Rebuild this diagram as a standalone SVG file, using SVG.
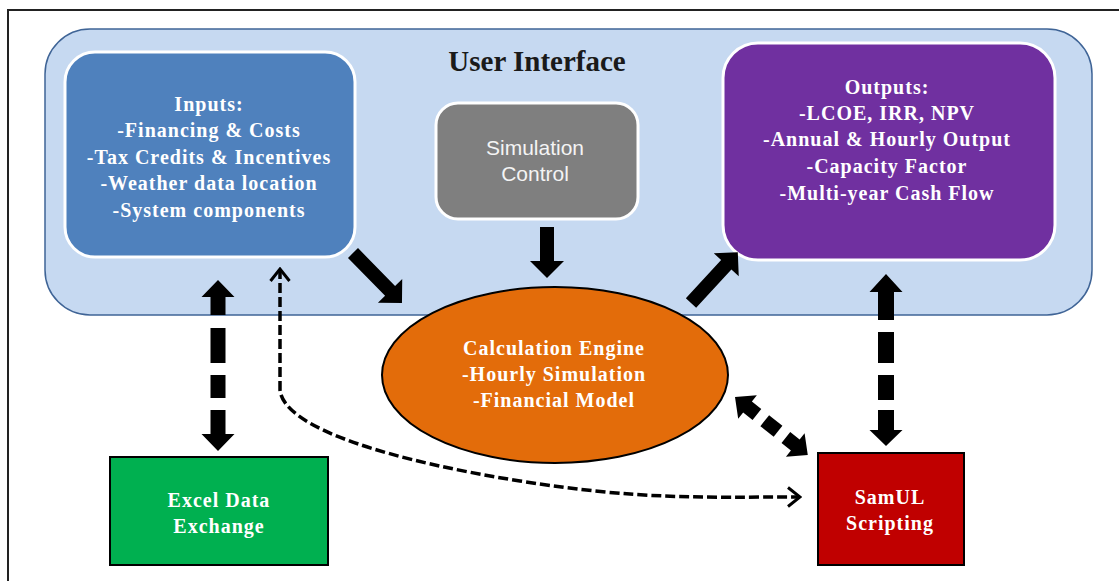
<svg xmlns="http://www.w3.org/2000/svg" width="1119" height="581" viewBox="0 0 1119 581">
  <defs>
    <style>
      .t { font-family: "Liberation Serif", "Times New Roman", serif; font-weight: bold; fill: #ffffff; text-anchor: middle; font-size: 20px; letter-spacing: 1px; }
      .sans { font-family: "Liberation Sans", Arial, sans-serif; fill: #f4f4f4; text-anchor: middle; font-size: 21px; }
      .title { font-family: "Liberation Serif", "Times New Roman", serif; font-weight: bold; fill: #1a1a1a; text-anchor: middle; font-size: 29px; }
      .blk { fill: #000000; }
      .thin { fill: none; stroke: #000000; stroke-width: 3.5; stroke-dasharray: 10 4; }
    </style>
    <marker id="chev" viewBox="0 0 16 22" refX="14" refY="11" markerWidth="16" markerHeight="22" markerUnits="userSpaceOnUse" orient="auto">
      <path d="M2,1.5 L14,11 L2,20.5" fill="none" stroke="#000" stroke-width="3"/>
    </marker>
    <marker id="chevStart" viewBox="0 0 16 22" refX="2" refY="11" markerWidth="16" markerHeight="22" markerUnits="userSpaceOnUse" orient="auto">
      <path d="M14,1.5 L2,11 L14,20.5" fill="none" stroke="#000" stroke-width="3"/>
    </marker>
  </defs>

  <rect x="0" y="0" width="1119" height="581" fill="#ffffff"/>
  <rect x="8" y="10" width="1125" height="590" fill="none" stroke="#222" stroke-width="2"/>

  <g id="user-interface">
    <rect x="45" y="29" width="1047" height="286" rx="45" ry="45" fill="#C6D9F1" stroke="#3F6496" stroke-width="1.5"/>
    <text class="title" x="537" y="71">User Interface</text>
  </g>

  <g id="inputs">
    <rect x="65" y="52" width="290" height="205" rx="30" ry="30" fill="#4F81BD" stroke="#ffffff" stroke-width="3"/>
    <text class="t" x="209" y="111">Inputs:</text>
    <text class="t" x="209" y="137">-Financing &amp; Costs</text>
    <text class="t" x="209" y="164">-Tax Credits &amp; Incentives</text>
    <text class="t" x="209" y="190">-Weather data location</text>
    <text class="t" x="209" y="217">-System components</text>
  </g>

  <g id="simulation-control">
    <rect x="436" y="103" width="202" height="116" rx="22" ry="22" fill="#7F7F7F" stroke="#ffffff" stroke-width="3"/>
    <text class="sans" x="535" y="155">Simulation</text>
    <text class="sans" x="535" y="181">Control</text>
  </g>

  <g id="outputs">
    <rect x="723" y="43" width="332" height="217" rx="35" ry="35" fill="#7030A0" stroke="#ffffff" stroke-width="3"/>
    <text class="t" x="887" y="94">Outputs:</text>
    <text class="t" x="887" y="120">-LCOE, IRR, NPV</text>
    <text class="t" x="887" y="146">-Annual &amp; Hourly Output</text>
    <text class="t" x="887" y="173">-Capacity Factor</text>
    <text class="t" x="887" y="200">-Multi-year Cash Flow</text>
  </g>

  <g id="calculation-engine">
    <ellipse cx="555" cy="375" rx="173" ry="88" fill="#E36C0A" stroke="#000000" stroke-width="2"/>
    <text class="t" x="554" y="355">Calculation Engine</text>
    <text class="t" x="554" y="381">-Hourly Simulation</text>
    <text class="t" x="554" y="407">-Financial Model</text>
  </g>

  <g id="excel-data-exchange">
    <rect x="110" y="457" width="218" height="108" fill="#00B050" stroke="#000000" stroke-width="2"/>
    <text class="t" x="219" y="507">Excel Data</text>
    <text class="t" x="219" y="533">Exchange</text>
  </g>

  <g id="samul-scripting">
    <rect x="818" y="453" width="146" height="112" fill="#C00000" stroke="#000000" stroke-width="2"/>
    <text class="t" x="890" y="504">SamUL</text>
    <text class="t" x="890" y="530">Scripting</text>
  </g>

  <g id="connectors">
    <!-- solid block arrows -->
    <polygon class="blk" points="0,-7 53,-7 53,-17 70,0 53,17 53,7 0,7" transform="translate(353,253) rotate(45.6)"/>
    <polygon class="blk" points="0,-7 34,-7 34,-17 51,0 34,17 34,7 0,7" transform="translate(547,227) rotate(90)"/>
    <polygon class="blk" points="0,-7 52,-7 52,-17 69,0 52,17 52,7 0,7" transform="translate(691,303) rotate(-47.3)"/>

    <!-- Excel <-> Inputs dashed block arrow -->
    <g class="blk">
      <polygon points="218,280 234.5,297 225.5,297 225.5,315 210.5,315 210.5,297 201.5,297"/>
      <rect x="210.5" y="328" width="15" height="35"/>
      <rect x="210.5" y="375" width="15" height="23"/>
      <polygon points="210.5,410 225.5,410 225.5,434 234.5,434 218,451 201.5,434 210.5,434"/>
    </g>

    <!-- Outputs <-> SamUL dashed block arrow -->
    <g class="blk">
      <polygon points="886,274 902.5,292 894,292 894,320 878,320 878,292 869.5,292"/>
      <rect x="878" y="332" width="16" height="31"/>
      <rect x="878" y="375" width="16" height="25"/>
      <polygon points="878,410 894,410 894,430 902.5,430 886,446 869.5,430 878,430"/>
    </g>

    <!-- Engine <-> SamUL dashed block arrow -->
    <g class="blk" transform="translate(735,397) rotate(38.5)">
      <polygon points="0,0 16,-15 16,-7 28,-7 28,7 16,7 16,15"/>
      <rect x="38" y="-7" width="17" height="14"/>
      <polygon points="65,-7 77,-7 77,-15 93,0 77,15 77,7 65,7"/>
    </g>

    <!-- thin dashed Inputs <-> SamUL -->
    <path class="thin" d="M280,269 L280,390 C284,430 400,462 520,481 S700,497 800,497" marker-start="url(#chevStart)" marker-end="url(#chev)"/>
  </g>
</svg>
